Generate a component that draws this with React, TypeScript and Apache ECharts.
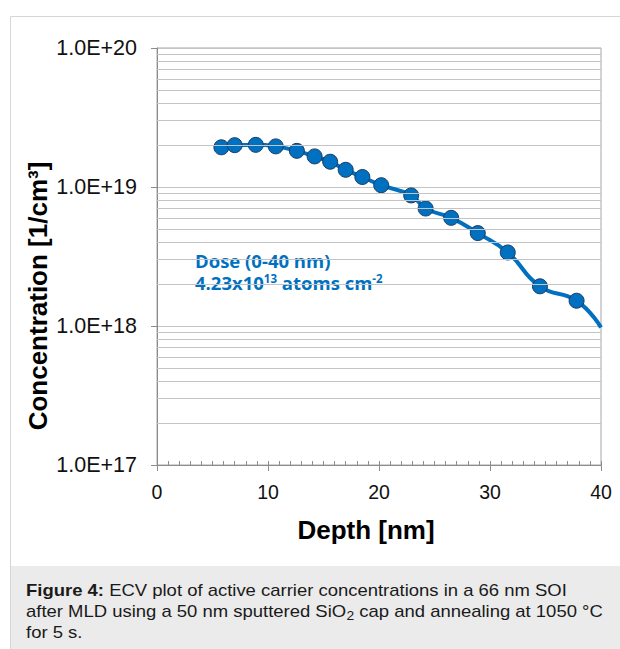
import React, { useEffect, useRef } from "react";
import * as echarts from "echarts";

const depthNm = [5.8, 7.0, 8.9, 10.7, 12.6, 14.2, 15.6, 17.0, 18.5, 20.2, 22.9, 24.2, 26.5, 28.9, 31.6, 34.5, 37.8, 40.0];
const concentration = [1.93e19, 2.0e19, 2.01e19, 1.96e19, 1.82e19, 1.66e19, 1.52e19, 1.33e19, 1.18e19, 1.03e19, 8.7e18, 7.0e18, 6.0e18, 4.66e18, 3.38e18, 1.93e18, 1.52e18, 9.75e17];
const markedPoints = 17; // last value is the curve's end, drawn without marker
const yDecades = [17, 18, 19];
const minorMultipliers = [2, 3, 4, 5, 6, 7, 8, 9];
const xTicks = [0, 10, 20, 30, 40];

const BLUE = "#0070C0";
const GRID = "#c4c4c4";
const AXIS = "#8c8c8c";
const FONT = "'Liberation Sans', Arial, sans-serif";

export default function App() {
  const ref = useRef<HTMLDivElement>(null);
  useEffect(() => {
    const chart = echarts.init(ref.current!, null, { renderer: "svg" });
    const seriesData = depthNm.map((d, i) =>
      i < markedPoints ? [d, concentration[i]] : { value: [d, concentration[i]], symbol: "none" }
    );
    const minorLines: any[] = [];
    yDecades.forEach((e) => minorMultipliers.forEach((m) => minorLines.push({ yAxis: m * Math.pow(10, e) })));

    chart.setOption({
      animation: false,
      backgroundColor: "#ffffff",
      grid: { left: 157, right: 19, top: 48, bottom: 184, show: true, borderColor: "#a6a6a6", borderWidth: 1 },
      xAxis: [
        {
          type: "value",
          min: xTicks[0],
          max: xTicks[xTicks.length - 1],
          interval: 10,
          axisLine: { show: true, lineStyle: { color: AXIS, width: 1 } },
          axisTick: { show: true, inside: false, length: 6, lineStyle: { color: AXIS } },
          splitLine: { show: false },
          axisLabel: { margin: 17, fontSize: 19.5, color: "#111", fontFamily: FONT },
        },
        {
          type: "value",
          position: "bottom",
          min: 0,
          max: 40,
          interval: 1,
          axisLine: { show: false },
          axisTick: { show: true, inside: true, length: 4, lineStyle: { color: AXIS } },
          splitLine: { show: false },
          axisLabel: { show: false },
        },
      ],
      yAxis: {
        type: "log",
        logBase: 10,
        min: 1e17,
        max: 1e20,
        splitNumber: 3,
        axisLine: { show: true, lineStyle: { color: AXIS, width: 1 } },
        axisTick: { show: true, inside: false, length: 6, lineStyle: { color: AXIS } },
        splitLine: { show: true, lineStyle: { color: GRID, width: 1 } },
        axisLabel: {
          margin: 20,
          fontSize: 21.5,
          color: "#111",
          fontFamily: FONT,
          formatter: (v: number) => "1.0E+" + Math.round(Math.log10(v)),
        },
      },
      series: [
        {
          type: "line",
          z: 1,
          data: [],
          silent: true,
          markLine: {
            silent: true,
            symbol: ["none", "none"],
            label: { show: false },
            lineStyle: { color: GRID, width: 1, type: "solid" },
            data: minorLines,
          },
        },
        {
          type: "line",
          z: 3,
          data: seriesData,
          smooth: 0.5,
          symbol: "circle",
          symbolSize: 15,
          lineStyle: { color: BLUE, width: 4 },
          itemStyle: { color: BLUE, borderColor: "#1d3b63", borderWidth: 1 },
        },
      ],
      graphic: [
        {
          type: "rect",
          z: -10,
          silent: true,
          shape: { x: 10.5, y: 16.5, width: 640, height: 660 },
          style: { fill: "none", stroke: "#d6d6d6", lineWidth: 1 },
        },
        {
          type: "rect",
          z: -9,
          silent: true,
          shape: { x: 11, y: 566, width: 609, height: 83 },
          style: { fill: "#ebebeb" },
        },
        {
          type: "text",
          x: 38,
          y: 296,
          rotation: Math.PI / 2,
          style: {
            text: "Concentration [1/cm³]",
            font: "bold 26px " + FONT,
            fill: "#000",
            align: "center",
            verticalAlign: "middle",
          },
        },
        {
          type: "text",
          x: 366,
          y: 530,
          style: {
            text: "Depth [nm]",
            font: "bold 26px " + FONT,
            fill: "#000",
            align: "center",
            verticalAlign: "middle",
          },
        },
        {
          type: "text",
          x: 195,
          y: 250,
          style: {
            text: "Dose (0-40 nm)",
            fontFamily: "'Open Sans', sans-serif",
            fontWeight: "bold",
            fontSize: 18.5,
            lineHeight: 21,
            fill: BLUE,
            align: "left",
            verticalAlign: "top",
          },
        },
        {
          type: "text",
          x: 195,
          y: 272,
          style: {
            text: "4.23x10{sup|13} atoms cm{sup|-2}",
            fontFamily: "'Open Sans', sans-serif",
            fontWeight: "bold",
            fontSize: 18.5,
            lineHeight: 21,
            fill: BLUE,
            align: "left",
            verticalAlign: "top",
            rich: {
              sup: {
                fontFamily: "'Open Sans', sans-serif",
                fontWeight: "bold",
                fontSize: 11.5,
                lineHeight: 11,
                verticalAlign: "top",
                fill: BLUE,
              },
            },
          },
        },
        {
          type: "text",
          x: 26,
          y: 579.5,
          scaleX: 1.155,
          style: {
            text:
              "{b|Figure 4:} ECV plot of active carrier concentrations in a 66 nm SOI\nafter MLD using a 50 nm sputtered SiO{sub|2} cap and annealing at 1050 °C\nfor 5 s.",
            fontFamily: FONT,
            fontSize: 16,
            lineHeight: 21,
            fill: "#1a1a1a",
            align: "left",
            verticalAlign: "top",
            rich: {
              b: { fontFamily: FONT, fontSize: 16, lineHeight: 21, fontWeight: "bold", fill: "#1a1a1a" },
              sub: { fontFamily: FONT, fontSize: 12, lineHeight: 12, verticalAlign: "bottom", fill: "#1a1a1a" },
            },
          },
        },
      ],
    });
    return () => chart.dispose();
  }, []);
  return <div ref={ref} style={{ position: "fixed", left: 0, top: 0, width: 620, height: 649 }} />;
}
